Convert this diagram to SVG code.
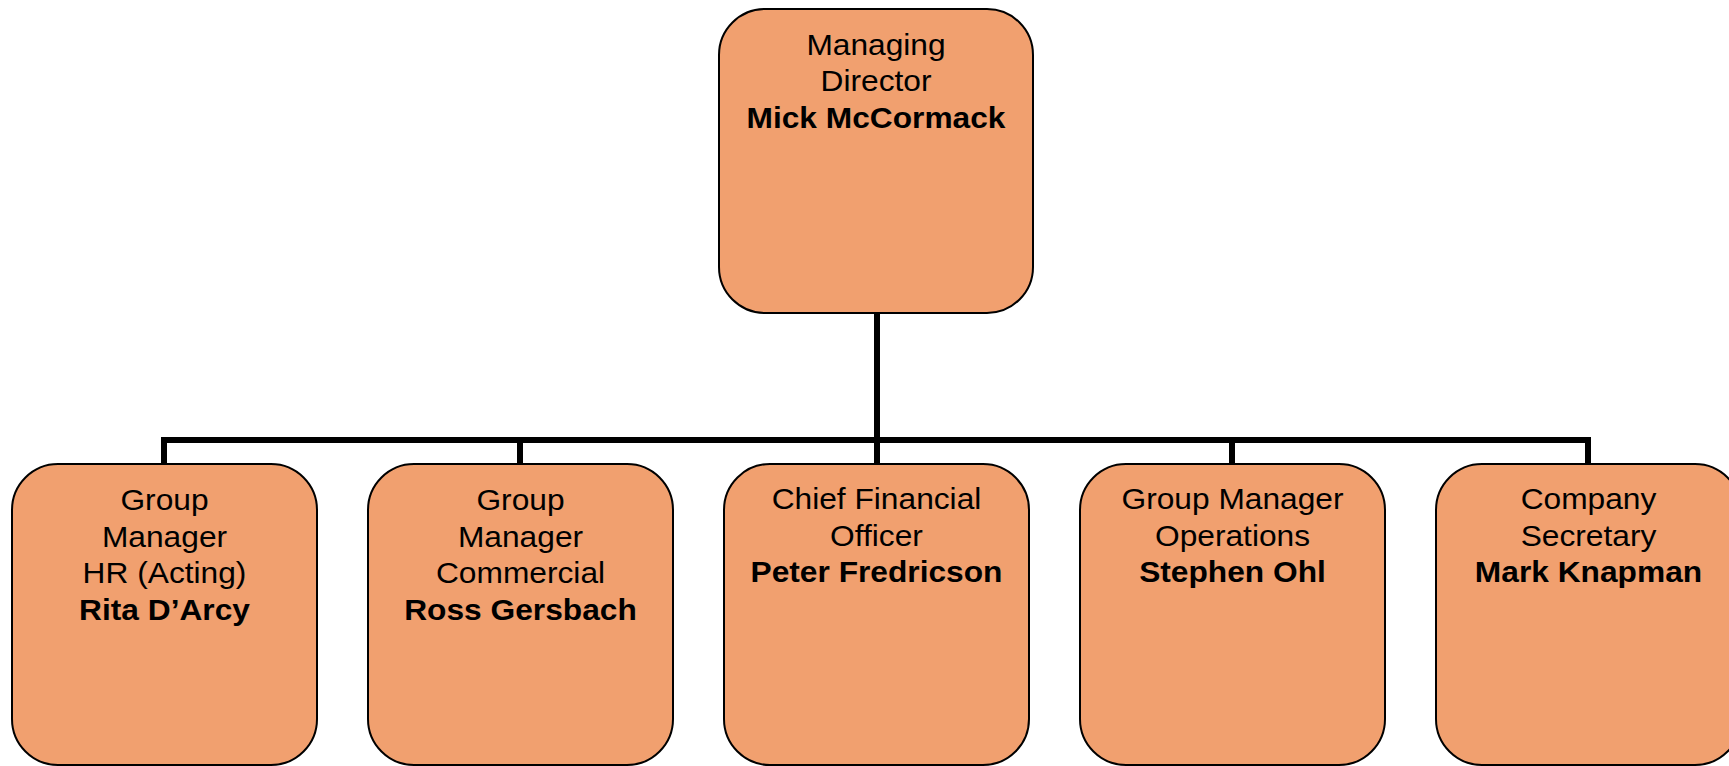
<svg xmlns="http://www.w3.org/2000/svg" width="1729" height="766" viewBox="0 0 1729 766">
  <style>
    .box { fill: #F1A06F; stroke: #000; stroke-width: 2; }
    .wire { fill: none; stroke: #000; stroke-width: 6; stroke-linecap: butt; stroke-linejoin: miter; }
    text { font-family: "Liberation Sans", Arial, Helvetica, sans-serif; font-size: 30px; fill: #000; text-anchor: middle; }
    .name { font-weight: bold; }
  </style>
  <rect width="1729" height="766" fill="#fff"/>

  <!-- reporting lines -->
  <g id="connectors">
    <path class="wire" d="M877 313 V440"/>
    <path class="wire" d="M164 467 V440 H1588 V467"/>
    <path class="wire" d="M520 440 V467"/>
    <path class="wire" d="M877 440 V467"/>
    <path class="wire" d="M1232 440 V467"/>
  </g>

  <g id="managing-director">
    <rect class="box" x="719" y="9" width="314" height="304" rx="46" ry="46"/>
    <g transform="translate(876 0) scale(1.057 1)">
      <text x="0" y="55">Managing</text>
      <text x="0" y="91.5">Director</text>
      <text class="name" x="0" y="128">Mick McCormack</text>
    </g>
  </g>

  <g id="gm-hr">
    <rect class="box" x="12" y="464" width="305" height="301" rx="46" ry="46"/>
    <g transform="translate(164.5 0) scale(1.057 1)">
      <text x="0" y="510">Group</text>
      <text x="0" y="546.7">Manager</text>
      <text x="0" y="583.4">HR (Acting)</text>
      <text class="name" x="0" y="620">Rita D’Arcy</text>
    </g>
  </g>

  <g id="gm-commercial">
    <rect class="box" x="368" y="464" width="305" height="301" rx="46" ry="46"/>
    <g transform="translate(520.5 0) scale(1.057 1)">
      <text x="0" y="510">Group</text>
      <text x="0" y="546.7">Manager</text>
      <text x="0" y="583.4">Commercial</text>
      <text class="name" x="0" y="620">Ross Gersbach</text>
    </g>
  </g>

  <g id="cfo">
    <rect class="box" x="724" y="464" width="305" height="301" rx="46" ry="46"/>
    <g transform="translate(876.5 0) scale(1.057 1)">
      <text x="0" y="509.5">Chief Financial</text>
      <text x="0" y="546">Officer</text>
      <text class="name" x="0" y="582.5">Peter Fredricson</text>
    </g>
  </g>

  <g id="gm-operations">
    <rect class="box" x="1080" y="464" width="305" height="301" rx="46" ry="46"/>
    <g transform="translate(1232.5 0) scale(1.057 1)">
      <text x="0" y="509.5">Group Manager</text>
      <text x="0" y="546">Operations</text>
      <text class="name" x="0" y="582.5">Stephen Ohl</text>
    </g>
  </g>

  <g id="company-secretary">
    <rect class="box" x="1436" y="464" width="305" height="301" rx="46" ry="46"/>
    <g transform="translate(1588.5 0) scale(1.057 1)">
      <text x="0" y="509.5">Company</text>
      <text x="0" y="546">Secretary</text>
      <text class="name" x="0" y="582.5">Mark Knapman</text>
    </g>
  </g>
</svg>
